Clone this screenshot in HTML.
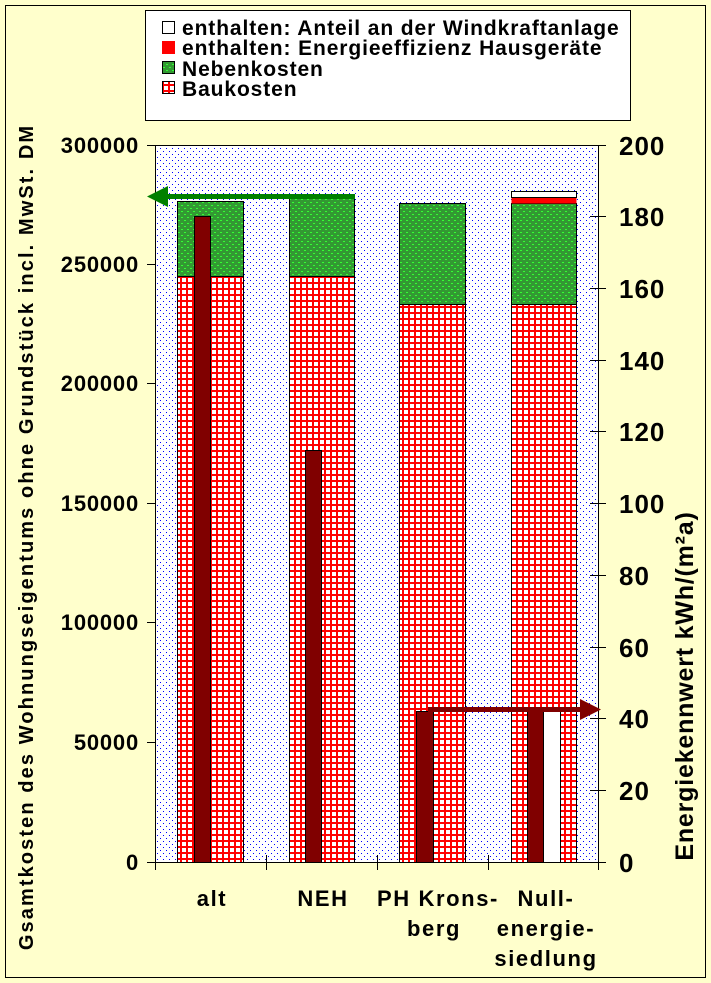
<!DOCTYPE html>
<html><head><meta charset="utf-8"><style>
html,body{margin:0;padding:0;background:#FFFFCC;}
svg{display:block;font-family:"Liberation Sans",Arial,sans-serif;font-weight:bold;}
</style></head><body>
<svg width="711" height="983" viewBox="0 0 711 983" xmlns="http://www.w3.org/2000/svg">
<defs>
<pattern id="dots" width="6" height="6" patternUnits="userSpaceOnUse"><rect width="6" height="6" fill="#fff"/><rect x="1" y="1" width="1" height="1" fill="#0000ff"/><rect x="4" y="4" width="1" height="1" fill="#0000ff"/></pattern>
<pattern id="grid" width="6" height="6" patternUnits="userSpaceOnUse"><rect width="6" height="6" fill="#fff"/><rect x="0" y="0" width="6" height="2" fill="#ff0000"/><rect x="0" y="0" width="2" height="6" fill="#ff0000"/></pattern>
<pattern id="green" width="6" height="6" patternUnits="userSpaceOnUse"><rect width="6" height="6" fill="#339933"/><rect x="1" y="1" width="2" height="1" fill="#33ff33"/><rect x="4" y="4" width="2" height="1" fill="#33ff33"/></pattern>
</defs>
<rect x="5.5" y="5.5" width="700" height="972" fill="#FFFFCC" stroke="#000" stroke-width="1"/>
<rect x="145.5" y="10.5" width="485" height="110" fill="#fff" stroke="#000"/>
<rect x="162.5" y="21.5" width="12" height="12" fill="#fff" stroke="#000"/>
<rect x="162" y="41" width="13" height="13" fill="#ff0000"/>
<rect x="162.5" y="61.5" width="12" height="12" fill="url(#green)" stroke="#000"/>
<rect x="162.5" y="81.5" width="12" height="12" fill="url(#grid)" stroke="#000"/>
<g font-size="21" letter-spacing="0.9">
<text x="182" y="35">enthalten: Anteil an der Windkraftanlage</text>
<text x="182" y="55">enthalten: Energieeffizienz Hausgeräte</text>
<text x="182" y="76">Nebenkosten</text>
<text x="182" y="96">Baukosten</text>
</g>
<rect x="155.5" y="145.5" width="443" height="717" fill="url(#dots)" stroke="#000"/>
<rect x="177.5" y="276.5" width="66" height="586" fill="url(#grid)" stroke="#000"/>
<rect x="177.5" y="201.5" width="66" height="75" fill="url(#green)" stroke="#000"/>
<rect x="289.5" y="276.5" width="65" height="586" fill="url(#grid)" stroke="#000"/>
<rect x="289.5" y="196.5" width="65" height="80" fill="url(#green)" stroke="#000"/>
<rect x="399.5" y="304.5" width="66" height="558" fill="url(#grid)" stroke="#000"/>
<rect x="399.5" y="203.5" width="66" height="101" fill="url(#green)" stroke="#000"/>
<rect x="511.5" y="304.5" width="65" height="558" fill="url(#grid)" stroke="#000"/>
<rect x="511.5" y="203.5" width="65" height="101" fill="url(#green)" stroke="#000"/>
<rect x="511.5" y="197.5" width="65" height="6" fill="#ff0000" stroke="none"/>
<rect x="511.5" y="191.5" width="65" height="6" fill="#fff" stroke="#000"/>
<rect x="194.5" y="216.5" width="16" height="646" fill="#800000" stroke="#000"/>
<rect x="305.5" y="450.5" width="16" height="412" fill="#800000" stroke="#000"/>
<rect x="416.5" y="711.5" width="17" height="151" fill="#800000" stroke="#000"/>
<rect x="527.5" y="711.5" width="16" height="151" fill="#800000" stroke="#000"/>
<rect x="543.5" y="711.5" width="17" height="151" fill="#fff" stroke="#000"/>
<rect x="160" y="194" width="195" height="5" fill="#008000"/>
<polygon points="147,196.5 168,186 168,207" fill="#008000"/>
<rect x="428" y="707" width="157" height="5" fill="#800000"/>
<polygon points="601,709.5 580,699 580,720" fill="#800000"/>
<g stroke="#000" stroke-width="1">
<line x1="147" y1="145.5" x2="155" y2="145.5"/><line x1="147" y1="264.5" x2="155" y2="264.5"/><line x1="147" y1="383.5" x2="155" y2="383.5"/><line x1="147" y1="503.5" x2="155" y2="503.5"/><line x1="147" y1="622.5" x2="155" y2="622.5"/><line x1="147" y1="742.5" x2="155" y2="742.5"/><line x1="147" y1="862.5" x2="155" y2="862.5"/>
<line x1="598" y1="145.5" x2="606" y2="145.5"/><line x1="590" y1="216.5" x2="606" y2="216.5"/><line x1="590" y1="288.5" x2="606" y2="288.5"/><line x1="590" y1="360.5" x2="606" y2="360.5"/><line x1="590" y1="431.5" x2="606" y2="431.5"/><line x1="590" y1="503.5" x2="606" y2="503.5"/><line x1="590" y1="575.5" x2="606" y2="575.5"/><line x1="590" y1="647.5" x2="606" y2="647.5"/><line x1="590" y1="718.5" x2="606" y2="718.5"/><line x1="590" y1="790.5" x2="606" y2="790.5"/><line x1="590" y1="862.5" x2="606" y2="862.5"/>
<line x1="155.5" y1="862" x2="155.5" y2="870"/><line x1="266.5" y1="855" x2="266.5" y2="870"/><line x1="377.5" y1="855" x2="377.5" y2="870"/><line x1="488.5" y1="855" x2="488.5" y2="870"/><line x1="598.5" y1="855" x2="598.5" y2="870"/>
</g>
<g font-size="22" letter-spacing="0.8" text-anchor="end">
<text x="139" y="153">300000</text><text x="139" y="272">250000</text><text x="139" y="391">200000</text><text x="139" y="511">150000</text><text x="139" y="630">100000</text><text x="139" y="750">50000</text><text x="139" y="870">0</text>
</g>
<g font-size="26" letter-spacing="1" text-anchor="start">
<text x="619" y="155">200</text><text x="619" y="226">180</text><text x="619" y="298">160</text><text x="619" y="370">140</text><text x="619" y="441">120</text><text x="619" y="513">100</text><text x="619" y="585">80</text><text x="619" y="657">60</text><text x="619" y="728">40</text><text x="619" y="800">20</text><text x="619" y="872">0</text>
</g>
<g font-size="22" letter-spacing="1.6" text-anchor="middle">
<text x="212" y="906">alt</text>
<text x="323" y="906">NEH</text>
<text x="438" y="906">PH Krons-</text><text x="434" y="936">berg</text>
<text x="546" y="906">Null-</text><text x="546" y="936">energie-</text><text x="546" y="966">siedlung</text>
</g>
<text transform="translate(33,537) rotate(-90)" font-size="20" letter-spacing="2.1" text-anchor="middle">Gsamtkosten des Wohnungseigentums ohne Grundstück incl. MwSt. DM</text>
<text transform="translate(693,686) rotate(-90)" font-size="25" letter-spacing="0.8" text-anchor="middle">Energiekennwert kWh/(m²a)</text>
</svg>
</body></html>
